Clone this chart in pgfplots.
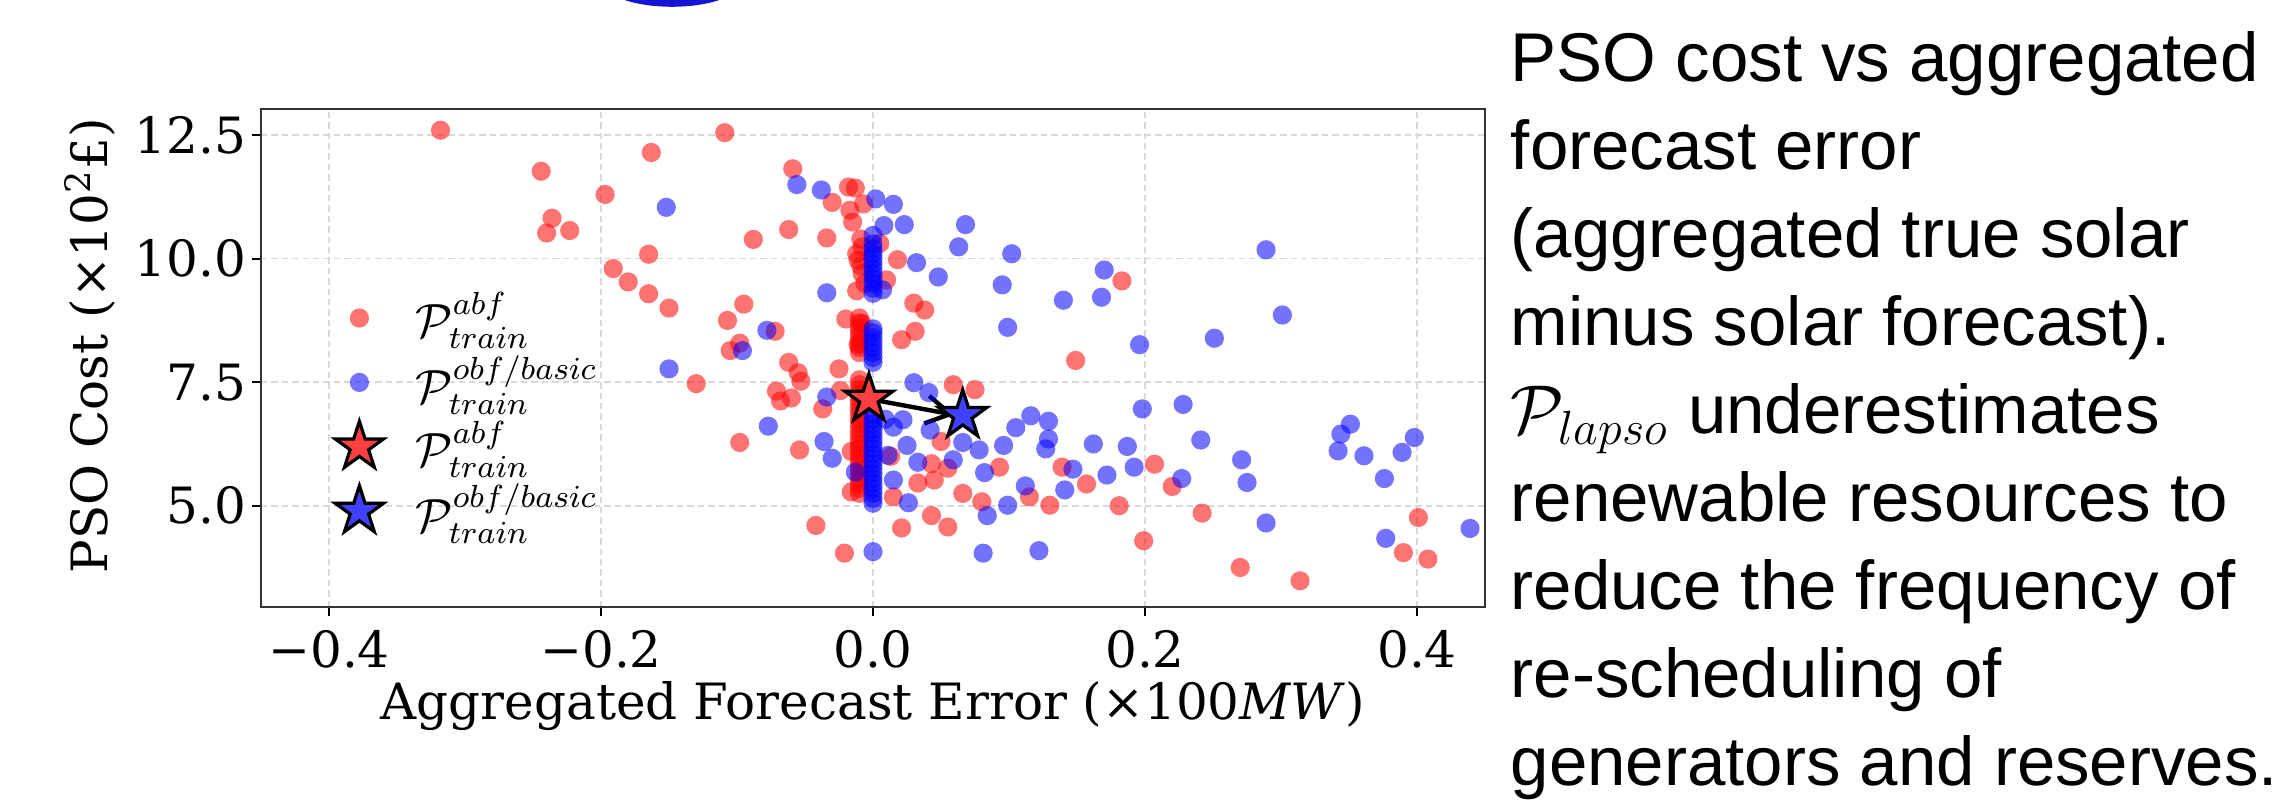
\documentclass[border=0pt]{standalone}
\usepackage{fontspec}
\setmainfont{DejaVu Serif}
\newfontfamily\arialfont{Liberation Sans}
\DeclareMathSizes{13}{13}{8}{6}
\usepackage{pgfplots}
\pgfplotsset{compat=1.18}
\usetikzlibrary{arrows.meta}
\definecolor{starred}{RGB}{255,64,64}
\definecolor{starblue}{RGB}{64,64,255}
\definecolor{topblue}{RGB}{20,20,210}
\pgfdeclareplotmark{fstar}{%
  \pgfpathmoveto{\pgfpointpolar{90}{\pgfplotmarksize}}%
  \pgfpathlineto{\pgfpointpolar{126}{0.382\pgfplotmarksize}}%
  \pgfpathlineto{\pgfpointpolar{162}{\pgfplotmarksize}}%
  \pgfpathlineto{\pgfpointpolar{198}{0.382\pgfplotmarksize}}%
  \pgfpathlineto{\pgfpointpolar{234}{\pgfplotmarksize}}%
  \pgfpathlineto{\pgfpointpolar{270}{0.382\pgfplotmarksize}}%
  \pgfpathlineto{\pgfpointpolar{306}{\pgfplotmarksize}}%
  \pgfpathlineto{\pgfpointpolar{342}{0.382\pgfplotmarksize}}%
  \pgfpathlineto{\pgfpointpolar{18}{\pgfplotmarksize}}%
  \pgfpathlineto{\pgfpointpolar{54}{0.382\pgfplotmarksize}}%
  \pgfpathclose
  \pgfusepathqfillstroke
}
\pgfplotstableread{
x y
-0.318 12.60
-0.244 11.77
-0.163 12.15
-0.109 12.55
-0.197 11.30
-0.236 10.82
-0.240 10.52
-0.223 10.57
-0.165 10.09
-0.191 9.80
-0.180 9.53
-0.165 9.29
-0.150 9.00
-0.059 11.82
-0.030 11.14
-0.062 10.59
-0.088 10.39
-0.034 10.42
-0.095 9.08
-0.107 8.75
-0.072 8.53
-0.105 8.14
-0.098 8.29
-0.130 7.47
-0.062 7.90
-0.055 7.69
-0.053 7.52
-0.071 7.32
-0.068 7.12
-0.060 7.18
-0.037 6.96
-0.025 7.77
-0.020 8.78
-0.018 11.45
-0.098 6.28
-0.054 6.13
-0.024 7.33
-0.013 11.43
-0.017 10.98
-0.015 10.74
-0.007 11.11
-0.008 10.24
0.005 10.31
-0.011 9.97
-0.008 9.70
-0.006 9.50
0.018 9.98
0.010 9.57
0.030 9.10
0.038 8.96
0.183 9.55
-0.008 8.69
0.031 8.53
0.021 8.36
-0.011 8.26
0.149 7.94
0.059 7.45
0.075 7.35
0.050 6.30
-0.016 6.10
0.013 6.00
-0.016 5.28
0.015 5.18
0.033 5.46
0.045 5.52
0.043 5.85
0.055 5.76
0.093 5.78
0.066 5.25
0.080 5.08
0.115 5.18
0.130 5.01
0.139 5.78
0.157 5.44
0.181 5.00
0.207 5.84
0.220 5.39
0.242 4.85
-0.042 4.60
0.043 4.80
0.055 4.57
0.021 4.55
-0.021 4.04
0.199 4.29
0.270 3.75
0.314 3.48
0.401 4.76
0.390 4.05
0.408 3.92
-0.010 5.25
-0.010 5.35
-0.010 5.45
-0.010 5.55
-0.010 5.65
-0.010 5.75
-0.010 5.85
-0.010 5.95
-0.010 6.05
-0.010 6.15
-0.010 6.25
-0.010 6.35
-0.010 6.45
-0.010 6.55
-0.010 6.65
-0.010 6.75
-0.010 6.85
-0.010 6.95
-0.010 7.05
-0.010 7.15
-0.010 7.25
-0.010 7.35
-0.010 7.45
-0.010 7.55
-0.010 8.10
-0.010 8.20
-0.010 8.30
-0.010 8.40
-0.010 8.50
-0.010 8.60
-0.010 8.70
-0.010 8.80
-0.012 9.35
-0.009 9.85
-0.012 10.10
-0.009 10.40
}\abfdata
\pgfplotstableread{
x y
-0.152 11.04
-0.056 11.50
-0.038 11.39
-0.034 9.31
-0.078 8.55
-0.096 8.14
-0.150 7.77
-0.034 7.20
-0.077 6.61
-0.036 6.30
0.002 11.21
0.015 11.10
0.008 10.67
0.023 10.69
0.068 10.69
0.000 10.47
0.032 9.92
0.048 9.63
0.063 10.24
0.102 10.10
0.095 9.47
0.140 9.16
0.170 9.77
0.168 9.22
0.289 10.18
0.301 8.86
0.099 8.61
0.196 8.26
0.251 8.39
0.007 9.37
0.030 7.49
0.041 7.29
0.198 6.96
0.228 7.05
0.009 6.75
0.022 6.74
0.015 6.59
0.042 6.53
0.116 6.82
0.129 6.71
0.105 6.58
0.351 6.65
0.344 6.45
0.398 6.38
0.241 6.33
0.162 6.25
0.187 6.20
0.096 6.22
0.129 6.35
0.127 6.15
-0.030 5.96
-0.013 5.68
0.015 5.52
0.026 5.06
0.033 5.88
0.025 6.22
0.078 6.13
0.082 5.67
0.059 5.93
0.066 6.28
0.084 4.80
0.099 5.01
0.112 5.40
0.141 5.32
0.147 5.74
0.172 5.62
0.192 5.78
0.227 5.55
0.271 5.93
0.275 5.47
0.289 4.65
0.342 6.11
0.361 6.01
0.376 5.55
0.389 6.08
0.377 4.34
0.439 4.54
0.000 4.07
0.081 4.04
0.122 4.09
0.011 6.02
0.000 5.05
0.000 5.15
0.000 5.25
0.000 5.35
0.000 5.45
0.000 5.55
0.000 5.65
0.000 5.75
0.000 5.85
0.000 5.95
0.000 6.05
0.000 6.15
0.000 6.25
0.000 6.35
0.000 6.45
0.000 6.55
0.000 6.65
0.000 6.75
0.000 6.85
0.000 7.90
0.000 8.00
0.000 8.10
0.000 8.20
0.000 8.30
0.000 8.40
0.000 8.50
0.000 8.58
0.000 9.30
0.000 9.40
0.000 9.50
0.000 9.60
0.000 9.70
0.000 9.80
0.000 9.90
0.000 10.00
0.000 10.10
0.000 10.20
0.000 10.30
}\obfdata
\begin{document}
\begin{tikzpicture}
\path[use as bounding box] (0,0) rectangle (569pt,200.25pt);
\fill[topblue] (168pt,205.75pt) ellipse [x radius=18.4pt, y radius=7.2pt];
\begin{axis}[
  at={(65.25pt,48.5pt)}, anchor=south west,
  scale only axis, width=306pt, height=124.5pt,
  xmin=-0.45, xmax=0.45, ymin=2.95, ymax=13.03,
  xtick={-0.4,-0.2,0,0.2,0.4},
  xticklabels={−0.4,−0.2,0.0,0.2,0.4},
  ytick={5,7.5,10,12.5},
  yticklabels={5.0,7.5,10.0,12.5},
  tick align=outside, xtick pos=bottom, ytick pos=left,
  major tick length=2.2pt,
  tick style={black, line width=0.5pt},
  grid=major,
  major grid style={gray!30, line width=0.4pt, dash pattern=on 1.6pt off 1pt},
  axis line style={line width=0.6pt, black!80},
  ticklabel style={font=\fontsize{12.5}{14}\selectfont},
  yticklabel style={xshift=2pt},
  label style={font=\fontsize{12.5}{14}\selectfont},
  xlabel={Aggregated Forecast Error (×100\textit{MW})},
  ylabel={PSO Cost (×10\textsuperscript{2}£)},
  xlabel style={at={(axis description cs:0.5,0)}, anchor=base, yshift=-28.25pt},
  ylabel style={at={(axis description cs:-0.140,0.525)}, anchor=center},
  legend style={at={(axis description cs:0.06,0.633)}, anchor=north west,
    draw=none, fill=none, inner sep=0pt, row sep=2.9pt, column sep=8pt,
    font=\fontsize{13}{15}\selectfont, nodes={inner sep=0pt}},
  legend cell align=left,
]
\addplot[only marks, mark=*, mark size=2.4pt, color=red,
  mark options={fill=red, fill opacity=0.55, draw opacity=0}] table {\abfdata};
\addlegendentry{$\mathcal{P}^{abf}_{train}$}
\addplot[only marks, mark=*, mark size=2.4pt, color=blue,
  mark options={fill=blue, fill opacity=0.55, draw opacity=0}] table {\obfdata};
\addlegendentry{$\mathcal{P}^{obf/basic}_{train}$}
\addplot[forget plot, black, line width=1.1pt, -{Straight Barb[length=6pt,width=7pt]}]
  coordinates {(-0.003,7.16) (0.060,6.84)};
\addplot[only marks, mark=fstar, mark size=6.35pt,
  mark options={fill=starred, draw=black, line width=0.8pt, line join=miter}]
  coordinates {(-0.003,7.16)};
\addlegendentry{$\mathcal{P}^{abf}_{train}$}
\addplot[only marks, mark=fstar, mark size=6.35pt,
  mark options={fill=starblue, draw=black, line width=0.8pt, line join=miter}]
  coordinates {(0.066,6.83)};
\addlegendentry{$\mathcal{P}^{obf/basic}_{train}$}
\end{axis}
\begin{scope}[every node/.style={anchor=base west, inner sep=0pt, font=\arialfont\fontsize{17.25}{22}\selectfont}]
\node at (377.5pt,179.75pt) {PSO cost vs aggregated};
\node at (377.5pt,157.75pt) {forecast error};
\node at (377.5pt,135.75pt) {(aggregated true solar};
\node at (377.5pt,113.75pt) {minus solar forecast).};
\node at (377.5pt,91.75pt) {$\mathcal{P}_{lapso}$ underestimates};
\node at (377.5pt,69.75pt) {renewable resources to};
\node at (377.5pt,47.75pt) {reduce the frequency of};
\node at (377.5pt,25.75pt) {re-scheduling of};
\node at (377.5pt,3.75pt) {generators and reserves.};
\end{scope}
\end{tikzpicture}
\end{document}
